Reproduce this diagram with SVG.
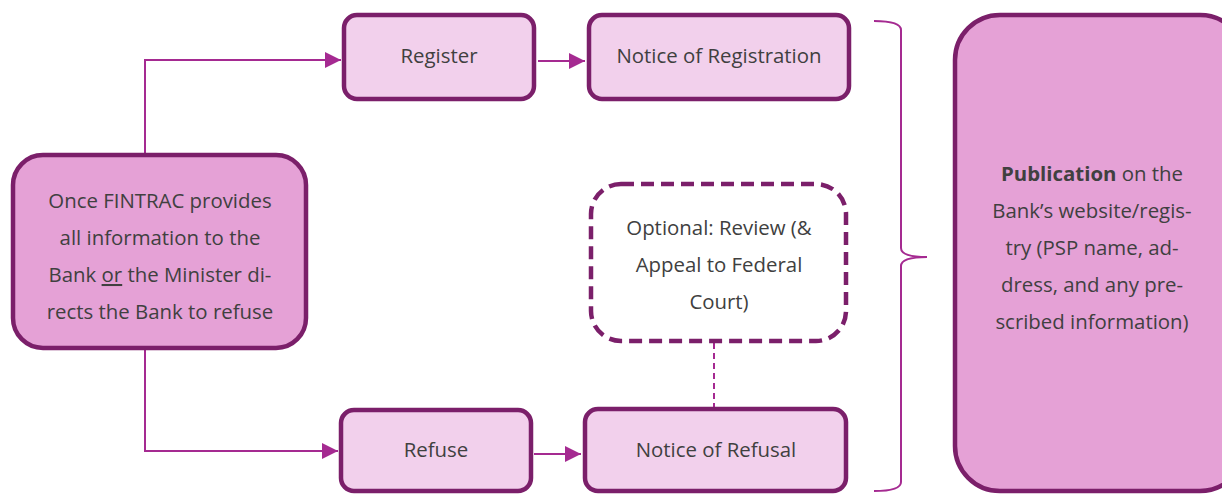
<svg xmlns="http://www.w3.org/2000/svg" width="1222" height="494" viewBox="0 0 1222 494">
<defs>
<style>
.box{fill:#F2D0EC;stroke:#7B1F6A;stroke-width:4.5}
.main{fill:#E5A1D6;stroke:#7B1F6A;stroke-width:4.5}
.dash{fill:#FFFFFF;stroke:#7B1F6A;stroke-width:4.5;stroke-dasharray:13 7}
.t{font-family:"Open Sans","Noto Sans",sans-serif;font-size:20.4px;fill:#404040;text-anchor:middle}
.c{fill:none;stroke:#A52A91;stroke-width:2}
.cd{fill:none;stroke:#A52A91;stroke-width:2;stroke-dasharray:6 4}
.br{fill:none;stroke:#A52A91;stroke-width:2}
</style>
<marker id="ah" viewBox="0 0 10 10" refX="10" refY="5" markerWidth="16" markerHeight="16" markerUnits="userSpaceOnUse" orient="auto">
<path d="M0,0 L10,5 L0,10 Z" fill="#A52A91"/>
</marker>
</defs>
<g id="connectors">
<path class="c" d="M145,153 V60 H341" marker-end="url(#ah)"/>
<path class="c" d="M145,350 V451 H338" marker-end="url(#ah)"/>
<path class="c" d="M538,61 H585" marker-end="url(#ah)"/>
<path class="c" d="M534,454 H581" marker-end="url(#ah)"/>
<path class="cd" d="M714,343 V407"/>
<path class="br" d="M874,21 Q901,21 901,30 V248 Q901,257 927,257 Q901,257 901,266 V482 Q901,491 874,491"/>
</g>
<g id="n-start">
<rect class="main" x="13" y="155" width="293" height="193" rx="30"/>
<text class="t" x="160" y="208">Once FINTRAC provides</text>
<text class="t" x="160" y="245">all information to the</text>
<text class="t" x="160" y="282">Bank <tspan text-decoration="underline">or</tspan> the Minister di-</text>
<text class="t" x="160" y="319">rects the Bank to refuse</text>
</g>
<g id="n-register">
<rect class="box" x="344" y="15" width="190" height="84" rx="13"/>
<text class="t" x="439" y="63">Register</text>
</g>
<g id="n-notice-reg">
<rect class="box" x="589" y="15" width="260" height="84" rx="13"/>
<text class="t" x="719" y="63">Notice of Registration</text>
</g>
<g id="n-review">
<rect class="dash" x="591" y="184" width="255" height="157" rx="30"/>
<text class="t" x="719" y="235">Optional: Review (&amp;</text>
<text class="t" x="719" y="272">Appeal to Federal</text>
<text class="t" x="719" y="309">Court)</text>
</g>
<g id="n-refuse">
<rect class="box" x="341" y="410" width="190" height="81" rx="13"/>
<text class="t" x="436" y="457">Refuse</text>
</g>
<g id="n-notice-ref">
<rect class="box" x="585" y="409" width="261" height="82" rx="13"/>
<text class="t" x="716" y="457">Notice of Refusal</text>
</g>
<g id="n-publication">
<rect class="main" x="955" y="15" width="290" height="476" rx="45"/>
<text class="t" x="1092" y="181"><tspan font-weight="bold">Publication</tspan> on the</text>
<text class="t" x="1092" y="218">Bank’s website/regis-</text>
<text class="t" x="1092" y="255">try (PSP name, ad-</text>
<text class="t" x="1092" y="292">dress, and any pre-</text>
<text class="t" x="1092" y="329">scribed information)</text>
</g>
</svg>
